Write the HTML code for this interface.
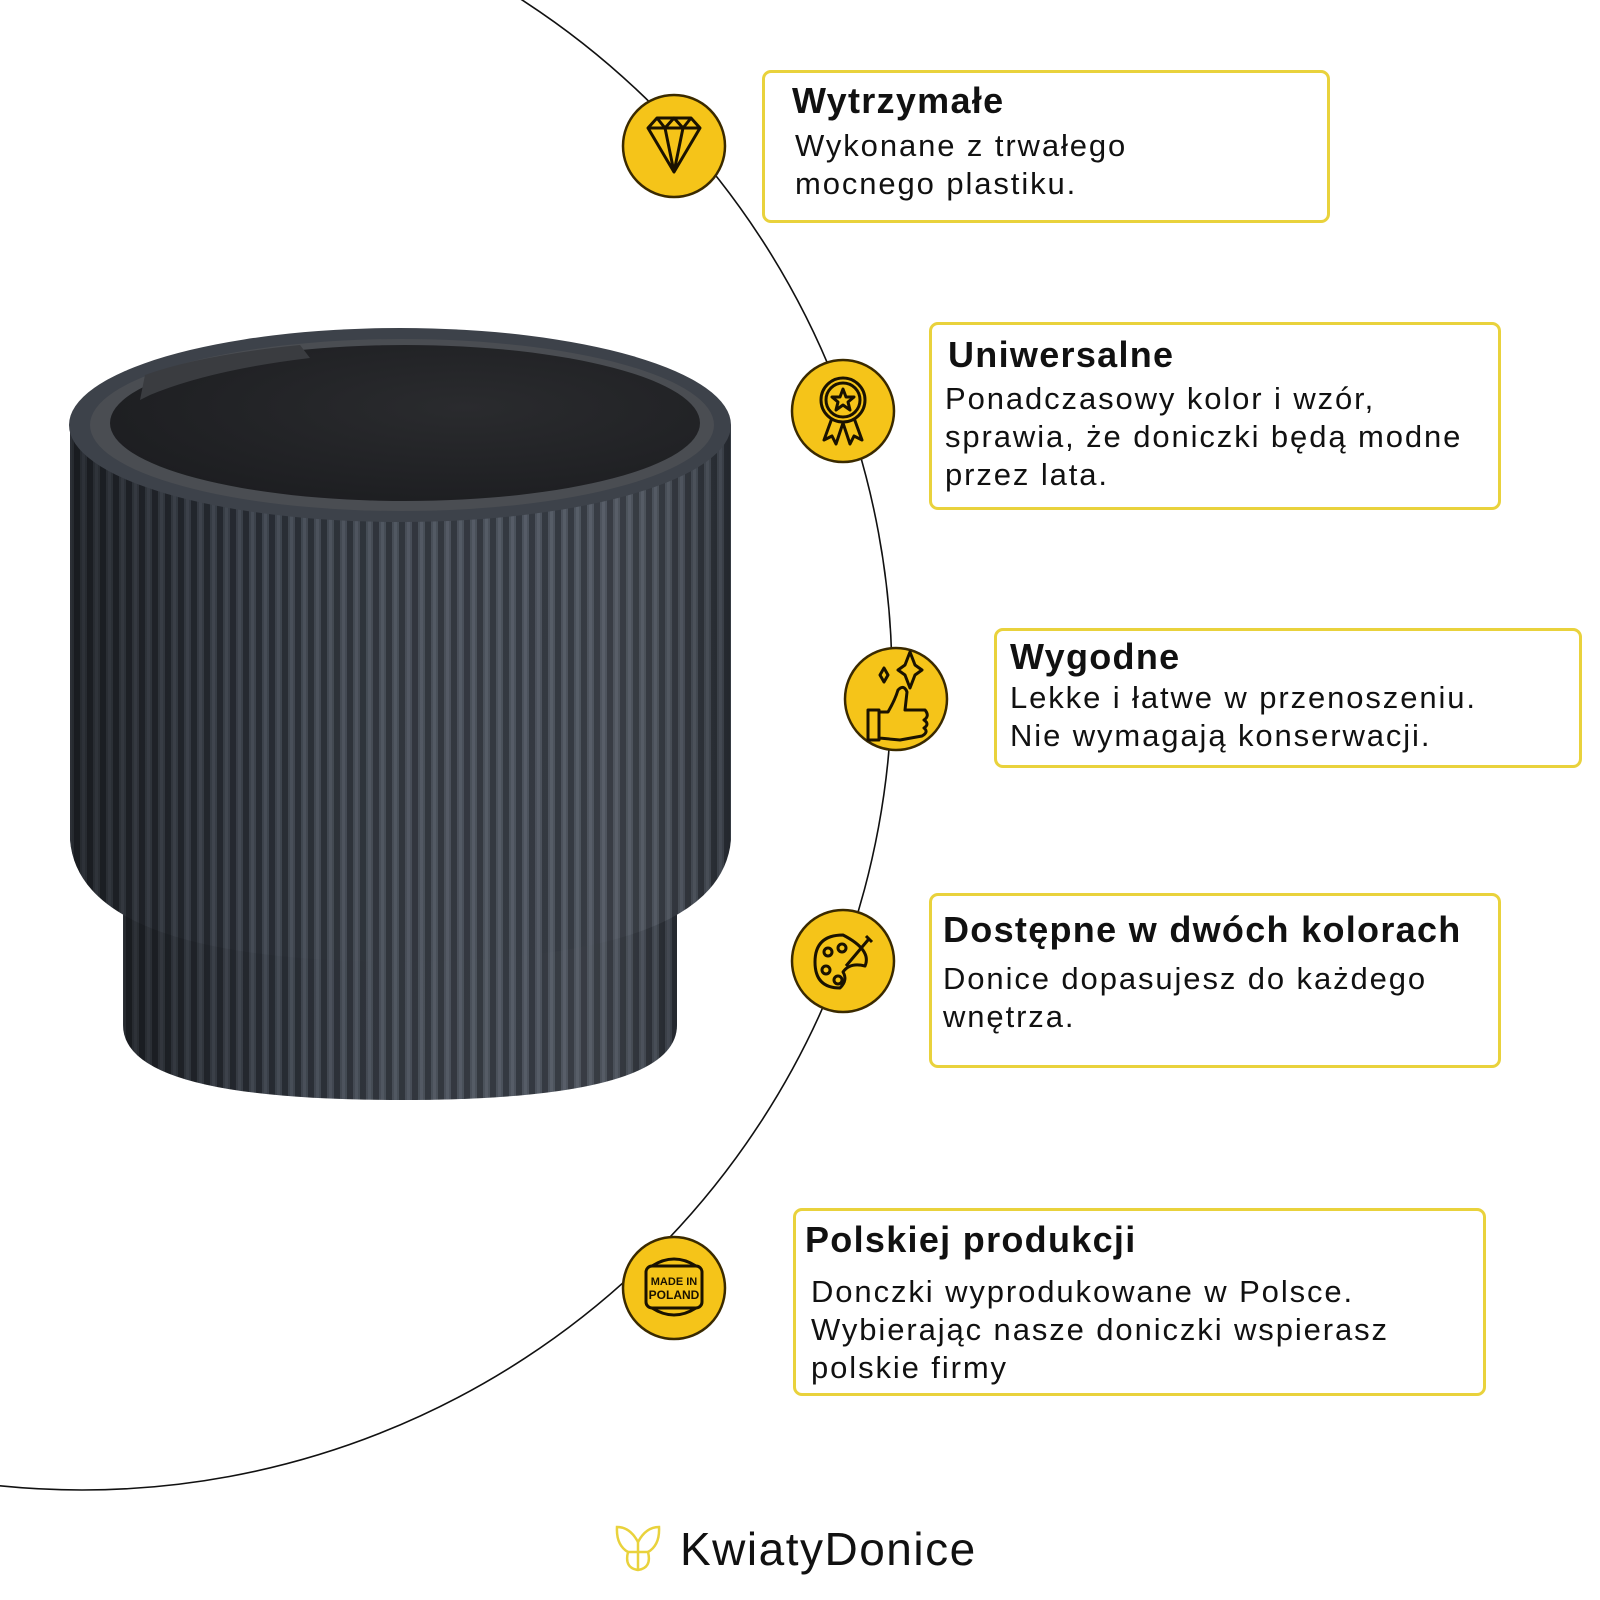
<!DOCTYPE html>
<html><head><meta charset="utf-8"><style>
html,body{margin:0;padding:0;background:#fff;}
body{width:1600px;height:1600px;position:relative;overflow:hidden;font-family:"Liberation Sans",sans-serif;color:#111;}
.box{position:absolute;border:3px solid #e9d23c;border-radius:9px;box-sizing:border-box;background:#fff;}
.t{position:absolute;font-weight:bold;font-size:36px;letter-spacing:1.3px;white-space:nowrap;}
.b{position:absolute;font-size:31px;line-height:38px;white-space:nowrap;letter-spacing:1.9px;}
</style></head><body>
<svg width="1600" height="1600" style="position:absolute;left:0;top:0">
<defs>
<pattern id="fl" x="0" y="0" width="13" height="20" patternUnits="userSpaceOnUse">
<rect width="13" height="20" fill="#2c3139"/>
<rect x="2" width="7" height="20" fill="#444b55"/>
<rect x="4" width="3" height="20" fill="#4f5661"/>
</pattern>
<linearGradient id="sh" x1="0" x2="1" y1="0" y2="0">
<stop offset="0" stop-color="#000" stop-opacity="0.45"/>
<stop offset="0.3" stop-color="#000" stop-opacity="0.1"/>
<stop offset="0.75" stop-color="#fff" stop-opacity="0.04"/>
<stop offset="1" stop-color="#000" stop-opacity="0.2"/>
</linearGradient>
<radialGradient id="inn" cx="0.6" cy="0.4" r="0.7">
<stop offset="0" stop-color="#2a2b2e"/><stop offset="1" stop-color="#1c1d20"/>
</radialGradient>
</defs>
<circle cx="82" cy="680" r="810" fill="none" stroke="#111" stroke-width="1.6"/>
<path d="M123 880 L123 1025 Q123 1100 400 1100 Q677 1100 677 1025 L677 880 Z" fill="url(#fl)"/>
<path d="M123 880 L123 1025 Q123 1100 400 1100 Q677 1100 677 1025 L677 880 Z" fill="url(#sh)"/>
<path d="M70 425 L70 840 Q80 960 400 962 Q720 960 731 840 L731 425 Z" fill="url(#fl)"/>
<path d="M70 425 L70 840 Q80 960 400 962 Q720 960 731 840 L731 425 Z" fill="url(#sh)"/>
<ellipse cx="400" cy="425" rx="331" ry="97" fill="#3d424a"/>
<ellipse cx="402" cy="425" rx="312" ry="86" fill="#4a4d52"/>
<ellipse cx="405" cy="423" rx="295" ry="78" fill="url(#inn)"/>
<path d="M140 400 L145 375 Q200 355 300 345 L310 358 Q210 370 150 395 Z" fill="#3a3c40"/>
<g stroke="#3a2a00" stroke-width="2.5" fill="#f5c419">
<circle cx="674" cy="146" r="51"/>
<circle cx="843" cy="411" r="51"/>
<circle cx="896" cy="699" r="51"/>
<circle cx="843" cy="961" r="51"/>
<circle cx="674" cy="1288" r="51"/>
</g>
<g fill="none" stroke="#1a1200" stroke-width="3" stroke-linejoin="round">
<path d="M648 128 L657 118 L691 118 L700 128 L674 172 Z M648 128 L700 128 M657 118 L665 128 L674 118 L683 128 L691 118 M665 128 L674 172 L683 128"/>
<circle cx="843" cy="400" r="22"/><circle cx="843" cy="400" r="17"/>
<path d="M843 389 L846 397 L854 397 L848 402 L850 410 L843 405 L836 410 L838 402 L832 397 L840 397 Z"/>
<path d="M832 418 L824 440 L832 436 L836 444 L843 423 M854 418 L862 440 L854 436 L850 444 L843 423"/>
<path d="M868 710 L879 710 L879 740 L868 740 Z M879 712 L888 712 Q895 700 898 690 Q904 684 907 692 L905 710 L925 710 Q930 716 924 720 Q930 724 924 728 Q929 732 922 736 L900 740 L879 738"/>
<path d="M880 675 L884 668 L888 675 L884 682 Z M905 665 L910 652 L915 665 L922 670 L915 675 L910 688 L905 675 L898 670 Z"/>
<path d="M843 935 Q815 935 815 962 Q815 988 840 988 Q848 980 843 972 Q850 962 865 966 Q872 950 843 935 Z"/>
<circle cx="828" cy="952" r="4"/><circle cx="826" cy="970" r="4"/><circle cx="838" cy="980" r="4"/><circle cx="842" cy="948" r="4"/>
<path d="M846 966 L868 940 M866 936 L872 942"/>
<rect x="646" y="1266" width="56" height="42" rx="6"/>
<path d="M652 1266 Q674 1252 696 1266 M652 1308 Q674 1322 696 1308"/>
</g>
<text x="674" y="1285" font-family="Liberation Sans" font-weight="bold" font-size="11" text-anchor="middle" fill="#1a1200">MADE IN</text>
<text x="674" y="1299" font-family="Liberation Sans" font-weight="bold" font-size="12" text-anchor="middle" fill="#1a1200">POLAND</text>
<g fill="none" stroke="#e9d23c" stroke-width="2.5">
<path d="M617 1527 Q630 1527 638 1542 Q646 1527 659 1527 Q660 1545 648 1552 Q652 1568 638 1570 Q624 1568 628 1552 Q616 1545 617 1527 Z"/>
<path d="M628 1552 L648 1552 M638 1542 L638 1570"/>
</g>
</svg>
<div style="position:absolute;left:680px;top:1522px;font-size:46px;letter-spacing:1.5px;color:#111;">KwiatyDonice</div>

<div class="box" style="left:762px;top:70px;width:568px;height:153px"></div>
<div class="t" style="left:792px;top:80px">Wytrzymałe</div>
<div class="b" style="left:795px;top:127px">Wykonane z trwałego<br>mocnego plastiku.</div>

<div class="box" style="left:929px;top:322px;width:572px;height:188px"></div>
<div class="t" style="left:948px;top:334px">Uniwersalne</div>
<div class="b" style="left:945px;top:380px">Ponadczasowy kolor i wzór,<br>sprawia, że doniczki będą modne<br>przez lata.</div>

<div class="box" style="left:994px;top:628px;width:588px;height:140px"></div>
<div class="t" style="left:1010px;top:636px">Wygodne</div>
<div class="b" style="left:1010px;top:679px">Lekke i łatwe w przenoszeniu.<br>Nie wymagają konserwacji.</div>

<div class="box" style="left:929px;top:893px;width:572px;height:175px"></div>
<div class="t" style="left:943px;top:909px">Dostępne w dwóch kolorach</div>
<div class="b" style="left:943px;top:960px">Donice dopasujesz do każdego<br>wnętrza.</div>

<div class="box" style="left:793px;top:1208px;width:693px;height:188px"></div>
<div class="t" style="left:805px;top:1219px">Polskiej produkcji</div>
<div class="b" style="left:811px;top:1273px">Donczki wyprodukowane w Polsce.<br>Wybierając nasze doniczki wspierasz<br>polskie firmy</div>
</body></html>
